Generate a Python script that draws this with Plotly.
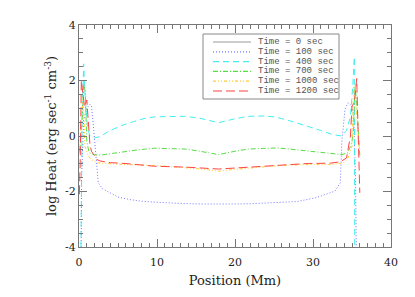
import plotly.graph_objects as go

# ---------------- data ----------------
times = ["0", "100", "400", "700", "1000", "1200"]

x_t0 = [None]
y_t0 = [None]

x_t100 = [0.28, 0.33, 0.6, 1.0, 1.4, 1.6, 1.8, 2.05, 2.27, 2.47, 3.0, 4.0, 5.0, 6.5, 8.0, 10.0,
          12.0, 14.0, 16.0, 18.0, 20.0, 22.0, 24.0, 26.0, 28.0, 30.3, 31.5, 32.8, 33.5, 33.7,
          34.1, 34.5, 34.9, 35.2, 35.45, 35.55]
y_t100 = [-4.0, -1.5, 0.6, 1.0, 1.15, 1.08, 0.5, -0.25, -1.2, -1.69, -1.9, -2.05, -2.2, -2.29, -2.35, -2.39,
          -2.42, -2.44, -2.45, -2.46, -2.45, -2.44, -2.42, -2.39, -2.36, -2.23, -2.12, -1.99, -1.69, -0.2,
          0.96, 1.2, 1.1, 0.8, -1.5, -4.0]

x_t400 = [0.25, 0.4, 0.6, 0.8, 1.1, 1.4, 2.0, 2.7, 4.0, 5.5, 7.0, 8.5, 9.7, 11.5, 13.6, 15.5, 17.9,
          20.0, 21.7, 23.5, 25.1, 27.0, 29.0, 31.0, 32.5, 33.7, 34.3, 34.8, 35.1, 35.3, 35.35]
y_t400 = [-4.0, 0.5, 2.6, 1.3, 0.3, 0.0, -0.07, -0.02, 0.2, 0.38, 0.52, 0.64, 0.69, 0.71, 0.71, 0.64, 0.48,
          0.62, 0.71, 0.72, 0.69, 0.55, 0.38, 0.2, 0.05, 0.0, 0.2, 0.7, 1.8, 2.85, -4.0]

x_t700 = [0.1, 0.4, 0.6, 0.8, 1.0, 1.3, 2.0, 2.7, 5.0, 7.5, 9.7, 11.5, 13.6, 15.5, 17.9, 20.0, 21.7,
          23.5, 25.5, 28.0, 31.0, 33.7, 34.5, 35.0, 35.2, 35.4, 35.6, 35.8, 36.0]
y_t700 = [-0.5, 0.5, 1.9, 1.6, -0.2, -0.6, -0.68, -0.69, -0.6, -0.5, -0.44, -0.45, -0.47, -0.55, -0.67, -0.55, -0.47,
          -0.45, -0.43, -0.5, -0.6, -0.67, -0.6, -0.2, 0.3, 1.8, 1.2, 0.2, -0.7]

x_t1000 = [0.05, 0.3, 0.5, 0.6, 0.77, 1.2, 1.6, 2.3, 4.0, 6.0, 9.7, 12.0, 14.0, 16.0, 17.9, 20.0, 22.0,
           24.0, 26.0, 29.0, 32.2, 33.9, 34.5, 35.0, 35.2, 35.5, 35.9]
y_t1000 = [-0.6, 0.4, 1.3, 0.9, -0.37, -0.73, -0.85, -0.97, -1.0, -1.03, -1.06, -1.1, -1.15, -1.2, -1.27, -1.2, -1.15,
           -1.1, -1.06, -1.03, -1.03, -0.97, -0.79, -0.37, 1.8, 1.2, -0.4]

x_t1200 = [0.05, 0.15, 0.3, 0.5, 0.7, 1.0, 1.2, 1.4, 1.6, 2.0, 2.3, 2.7, 4.0, 5.9, 9.7, 13.6, 17.9, 22.0,
           26.0, 29.4, 32.2, 33.5, 34.3, 34.8, 35.0, 35.3, 35.6, 35.7, 35.9, 36.0]
y_t1200 = [-2.1, -1.0, 2.0, 1.4, 1.06, 1.3, 0.6, -0.3, -0.55, -0.75, -0.85, -0.9, -0.96, -0.99, -1.09, -1.12, -1.19, -1.12,
           -1.06, -0.99, -0.98, -0.93, -0.79, 0.0, 1.08, 1.2, 2.07, 1.0, -1.3, -2.05]

x_tickvals = [0, 10, 20, 30, 40]
y_tickvals = [-4, -2, 0, 2, 4]
y_ticktext = ["-4", "-2", "0", "2", "4"]

# ---------------- style ----------------
colors = ["#999999", "#7777ff", "#44eeee", "#55dd44", "#ffcc33", "#ff4444"]
dashes = ["solid", "1px,2px", "6px,4px", "5px,2px,1px,2px", "3px,2px,1px,2px,1px,2px", "9px,4px"]
xs = [x_t0, x_t100, x_t400, x_t700, x_t1000, x_t1200]
ys = [y_t0, y_t100, y_t400, y_t700, y_t1000, y_t1200]

fig = go.Figure()
for t, xv, yv, c, d in zip(times, xs, ys, colors, dashes):
    fig.add_trace(go.Scatter(x=xv, y=yv, mode="lines", name="Time = %s sec" % t,
                             line=dict(color=c, width=1, dash=d), showlegend=False))

axis_font = dict(family="DejaVu Serif", size=11, color="#222222")
common = dict(showline=True, linecolor="#777777", linewidth=1, mirror="allticks",
              ticks="inside", tickcolor="#777777", showgrid=False, zeroline=False,
              tickfont=axis_font, automargin=False)

fig.update_xaxes(range=[0, 40], tickvals=x_tickvals, ticklen=8, ticklabelstandoff=5,
                 minor=dict(dtick=1, ticklen=4, ticks="inside", tickcolor="#777777"),
                 title=dict(text="Position (Mm)", font=dict(family="DejaVu Serif", size=13, color="#222222"),
                            standoff=7),
                 **common)
fig.update_yaxes(range=[-4, 4], tickvals=y_tickvals, ticktext=y_ticktext, ticklen=8,
                 minor=dict(dtick=0.5, ticklen=4, ticks="inside", tickcolor="#777777"),
                 title=dict(text="log Heat (erg sec<sup>-1</sup> cm<sup>-3</sup>)",
                            font=dict(family="DejaVu Serif", size=13, color="#222222"), standoff=5),
                 **common)

# custom compact legend (box + line samples + labels) in paper coordinates
L, R, T, B = 79, 391, 25, 247
W, H = R - L, B - T
def px(xp):
    return (xp - L) / W
def py(yp):
    return (B - yp) / H

fig.add_shape(type="rect", xref="paper", yref="paper",
              x0=px(203), x1=px(339), y0=py(99), y1=py(34),
              line=dict(color="#888888", width=1), fillcolor="white", layer="above")
for i, (t, c, d) in enumerate(zip(times, colors, dashes)):
    yy = 42 + 9.8 * i
    fig.add_shape(type="line", xref="paper", yref="paper",
                  x0=px(213), x1=px(251), y0=py(yy), y1=py(yy),
                  line=dict(color=c, width=1.2, dash=d), layer="above")
    fig.add_annotation(xref="paper", yref="paper", x=px(256), y=py(yy),
                       xanchor="left", yanchor="middle", showarrow=False,
                       text="Time = %s sec" % t,
                       font=dict(family="Liberation Mono", size=9, color="#555555"))

fig.update_layout(width=415, height=297, margin=dict(l=L, r=415 - R, t=T, b=297 - B),
                  plot_bgcolor="white", paper_bgcolor="white", showlegend=False)

fig.write_html("out.html", config={"displayModeBar": False},
               post_script="document.body.style.margin='0';")
